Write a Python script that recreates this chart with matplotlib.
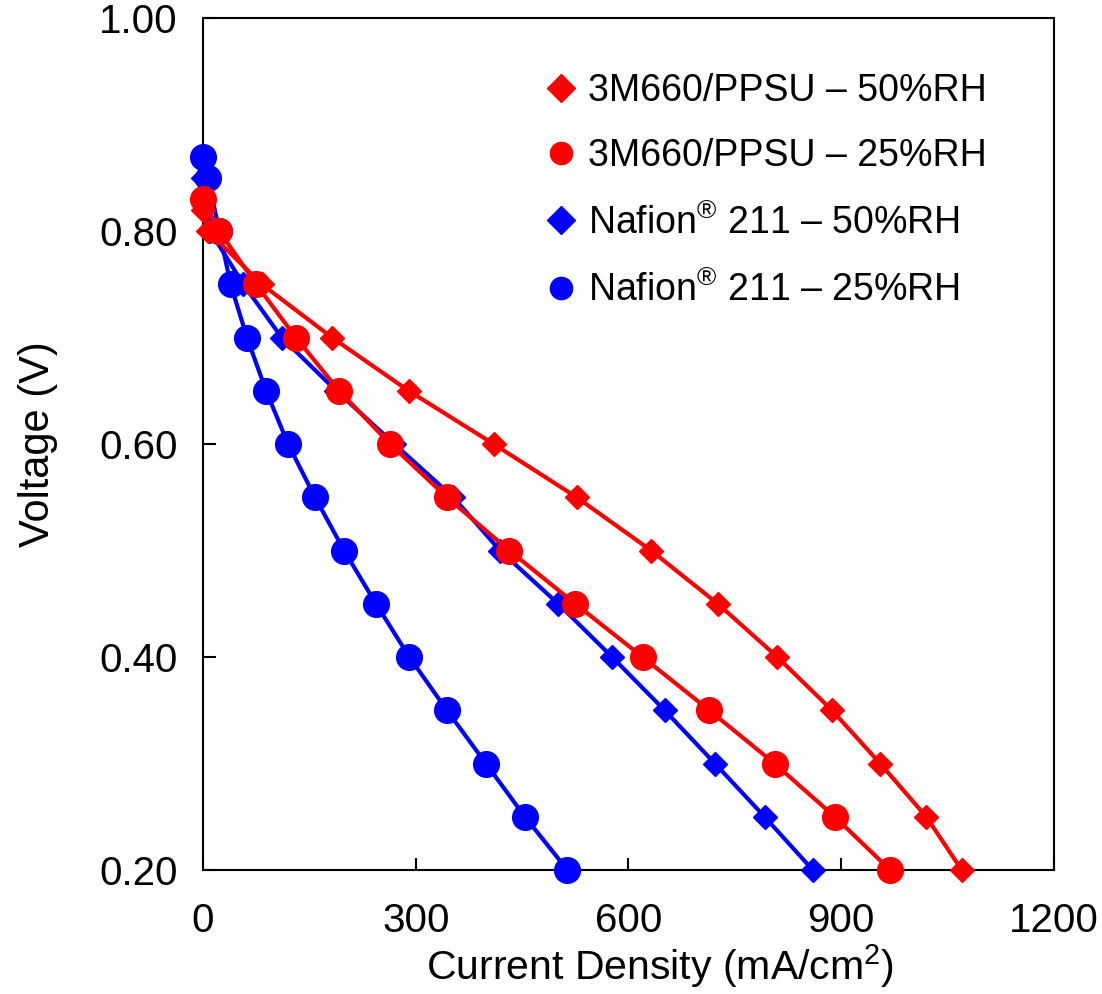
import matplotlib
matplotlib.use("Agg")
import matplotlib.pyplot as plt
from matplotlib.lines import Line2D

plt.rcParams['font.family'] = ['Liberation Sans', 'DejaVu Sans']
plt.rcParams['mathtext.fontset'] = 'custom'
plt.rcParams['mathtext.rm'] = 'Liberation Sans'
plt.rcParams['mathtext.it'] = 'Liberation Sans'

# datos (mA/cm2, V)
ppsu50_i = [0, 7, 83, 182, 290, 410, 527, 632, 726, 810, 887, 955, 1020, 1070]
ppsu50_v = [0.82, 0.80, 0.75, 0.70, 0.65, 0.60, 0.55, 0.50, 0.45, 0.40, 0.35, 0.30, 0.25, 0.20]

ppsu25_i = [0, 23, 75, 131, 192, 264, 344, 432, 525, 620, 714, 806, 891, 969]
ppsu25_v = [0.83, 0.80, 0.75, 0.70, 0.65, 0.60, 0.55, 0.50, 0.45, 0.40, 0.35, 0.30, 0.25, 0.20]

nafion50_i = [0, 10, 57, 111, 188, 270, 353, 419, 501, 577, 651, 722, 792, 860]
nafion50_v = [0.85, 0.80, 0.75, 0.70, 0.65, 0.60, 0.55, 0.50, 0.45, 0.40, 0.35, 0.30, 0.25, 0.20]

nafion25_i = [0, 7, 23, 39, 62, 89, 120, 158, 199, 244, 291, 344, 399, 454, 514]
nafion25_v = [0.87, 0.85, 0.80, 0.75, 0.70, 0.65, 0.60, 0.55, 0.50, 0.45, 0.40, 0.35, 0.30, 0.25, 0.20]

labels = ['3M660/PPSU – 50%RH', '3M660/PPSU – 25%RH',
          'Nafion$^{\\circledR}$ 211 – 50%RH', 'Nafion$^{\\circledR}$ 211 – 25%RH']

fig = plt.figure(figsize=(11.02, 9.94), dpi=100)
ax = fig.add_axes([0.1842, 0.1247, 0.7722, 0.8571])

# primero Nafion, luego 3M660 encima
ax.plot(nafion25_i, nafion25_v, color='#0000FF', lw=3, marker='o', ms=18.5, clip_on=False, zorder=3)
ax.plot(nafion50_i, nafion50_v, color='#0000FF', lw=3, marker='D', ms=12.5, clip_on=False, zorder=4)
ax.plot(ppsu25_i, ppsu25_v, color='#FF0000', lw=3, marker='o', ms=18.5, clip_on=False, zorder=5)
ax.plot(ppsu50_i, ppsu50_v, color='#FF0000', lw=3, marker='D', ms=12.5, clip_on=False, zorder=6)

ax.set_xlim(0, 1200)
ax.set_ylim(0.2, 1.0)
ax.set_xticks([0, 300, 600, 900, 1200])
ax.set_yticks([0.2, 0.4, 0.6, 0.8, 1.0])
ax.set_yticklabels(['0.20', '0.40', '0.60', '0.80', '1.00'])
ax.tick_params(direction='in', length=9, width=1.5, labelsize=29, pad=18)
ax.tick_params(axis='x', pad=23)
for s in ax.spines.values():
    s.set_linewidth(1.5)

ax.set_xlabel('Current Density (mA/cm$^2$)', fontsize=29.5, labelpad=4)
ax.xaxis.set_label_coords(0.537, -0.085)
ax.set_ylabel('Voltage (V)', fontsize=30, labelpad=30)

handles = [
    Line2D([], [], color='#FF0000', marker='D', ms=14, ls='none'),
    Line2D([], [], color='#FF0000', marker='o', ms=16, ls='none'),
    Line2D([], [], color='#0000FF', marker='D', ms=14, ls='none'),
    Line2D([], [], color='#0000FF', marker='o', ms=16, ls='none'),
]
ax.legend(handles, labels, loc='upper left', bbox_to_anchor=(0.364, 0.975), frameon=False,
          fontsize=27, handlelength=0.8, handletextpad=0.3, labelspacing=0.775)

fig.savefig('out.png', dpi=100)
